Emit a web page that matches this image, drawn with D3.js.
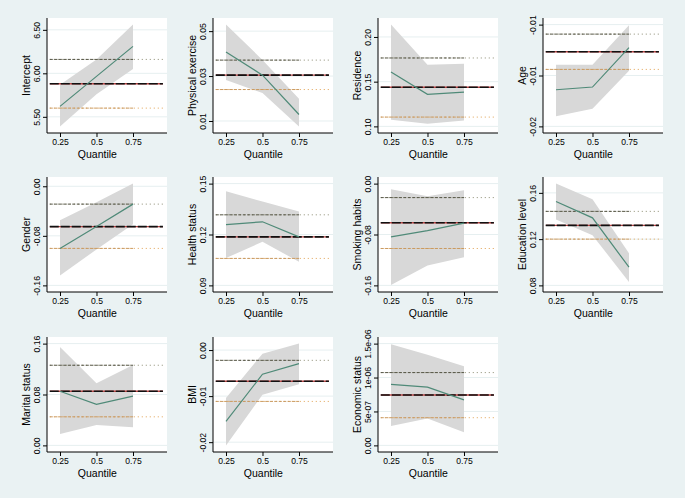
<!DOCTYPE html>
<html>
<head>
<meta charset="utf-8">
<script src="https://cdn.jsdelivr.net/npm/d3@7"></script>
<style>
  body { margin: 0; background: #eaf2f3; }
  svg { display: block; font-family: "Liberation Sans", Arial, sans-serif; }
</style>
</head>
<body>
<div id="chart"></div>
<script>
// quantile regression coefficients by quantile, with OLS estimate for comparison
const variables = ["Intercept", "Physical exercise", "Residence", "Age",
    "Gender", "Health status", "Smoking habits", "Education level",
    "Marital status", "BMI", "Economic status"];
const quantiles = [0.25, 0.5, 0.75];
const quantileLabels = ["0.25", "0.5", "0.75"];

const coef = [
    [5.62, 5.965, 6.31],
    [0.0407, 0.0304, 0.0129],
    [0.1608, 0.1358, 0.1384],
    [-0.0146, -0.0142, -0.0084],
    [-0.1003, -0.0651, -0.0288],
    [0.1258, 0.1275, 0.1186],
    [-0.0836, -0.0738, -0.062],
    [0.1525, 0.1384, 0.0957],
    [0.0852, 0.0645, 0.0774],
    [-0.0155, -0.00525, -0.00295],
    [8.98e-7, 8.59e-7, 6.7e-7]
];
const ciHigh = [
    [5.87, 6.16, 6.56],
    [0.0529, 0.0372, 0.0199],
    [0.2138, 0.169, 0.170],
    [-0.0109, -0.0109, -0.0051],
    [-0.0549, -0.0256, 0.0043],
    [0.1455, 0.1394, 0.1335],
    [-0.0087, -0.020, -0.0103],
    [0.168, 0.1545, 0.1078],
    [0.1548, 0.0975, 0.1265],
    [-0.0104, -0.0008, 0.0014],
    [1.49e-6, 1.335e-6, 1.165e-6]
];
const ciLow = [
    [5.39, 5.76, 6.05],
    [0.0282, 0.0225, 0.0076],
    [0.1075, 0.103, 0.1067],
    [-0.0185, -0.0174, -0.0118],
    [-0.144, -0.102, -0.0613],
    [0.1061, 0.1157, 0.1039],
    [-0.1595, -0.1287, -0.1159],
    [0.137, 0.1234, 0.083],
    [0.018, 0.032, 0.0284],
    [-0.0207, -0.0097, -0.0074],
    [2.86e-7, 3.98e-7, 1.94e-7]
];
const olsCoef = [5.88, 0.0304, 0.1437, -0.0090, -0.0651, 0.1186, -0.0615, 0.1319, 0.0852, -0.00676, 7.43e-7];
const olsHigh = [6.16, 0.0371, 0.1765, -0.0064, -0.0288, 0.1316, -0.022, 0.144, 0.126, -0.00223, 1.073e-6];
const olsLow = [5.60, 0.024, 0.1104, -0.0116, -0.1003, 0.1059, -0.102, 0.12, 0.0449, -0.01115, 4.08e-7];
const olsSpan = [0.18, 0.955];

const yTicks = [
    [5.5, 6.0, 6.5],
    [0.01, 0.03, 0.05],
    [0.10, 0.15, 0.20],
    [-0.02, -0.0125, -0.005],
    [-0.16, -0.08, 0.0],
    [0.09, 0.12, 0.15],
    [-0.16, -0.08, 0.0],
    [0.08, 0.12, 0.16],
    [0.0, 0.08, 0.16],
    [-0.02, -0.01, 0.0],
    [0, 5e-7, 1e-6, 1.5e-6]
];
const yTickLabels = [
    ["5.50", "6.00", "6.50"],
    ["0.01", "0.03", "0.05"],
    ["0.10", "0.15", "0.20"],
    ["-0.02", "-0.01", "-0.01"],
    ["-0.16", "-0.08", "0.00"],
    ["0.09", "0.12", "0.15"],
    ["-0.16", "-0.08", "0.00"],
    ["0.08", "0.12", "0.16"],
    ["0.00", "0.08", "0.16"],
    ["-0.02", "-0.01", "0.00"],
    ["0.00", "5e-07", "1e-06", "1.5e-06"]
];

const svgWidth = 685, svgHeight = 498;
const colLeft = [47, 213, 378, 543];
const rowTop = [18, 177, 337];
const plotW = 120, plotH = 115;

const svg = d3.select("#chart").append("svg")
    .attr("width", svgWidth)
    .attr("height", svgHeight);

svg.append("rect")
    .attr("width", svgWidth)
    .attr("height", svgHeight)
    .attr("fill", "#eaf2f3");

const x = d3.scaleLinear().domain([0.161, 0.983]).range([0, plotW]);

variables.forEach((name, i) => {
    const col = i % 4, row = Math.floor(i / 4);
    const g = svg.append("g")
        .attr("transform", `translate(${colLeft[col]},${rowTop[row]})`);

    const all = coef[i].concat(ciHigh[i], ciLow[i], [olsHigh[i], olsLow[i]], yTicks[i]);
    const ext = d3.extent(all);
    const pad = (ext[1] - ext[0]) * 0.065;
    const y = d3.scaleLinear().domain([ext[0] - pad, ext[1] + pad]).range([plotH, 0]);

    // plot region
    g.append("rect")
        .attr("width", plotW)
        .attr("height", plotH)
        .attr("fill", "#ffffff");

    // gridlines
    g.selectAll(".grid")
        .data(yTicks[i])
        .enter().append("line")
        .attr("x1", 0).attr("x2", plotW)
        .attr("y1", d => y(d)).attr("y2", d => y(d))
        .attr("stroke", "#e6eff0")
        .attr("stroke-width", 1);

    // confidence band
    const area = d3.area()
        .x((d, j) => x(quantiles[j]))
        .y0((d, j) => y(ciLow[i][j]))
        .y1((d, j) => y(ciHigh[i][j]));
    g.append("path")
        .datum(quantiles)
        .attr("d", area)
        .attr("fill", "#d8d8d8");

    // OLS lines
    const hline = (v, attrs) => {
        const l = g.append("line")
            .attr("x1", x(olsSpan[0])).attr("x2", x(olsSpan[1]))
            .attr("y1", y(v)).attr("y2", y(v));
        Object.entries(attrs).forEach(([k, val]) => l.attr(k, val));
        return l;
    };
    hline(olsHigh[i], { stroke: "#8a8a70", "stroke-width": 1, "stroke-dasharray": "1,3" });
    g.append("line")
        .attr("x1", x(olsSpan[0])).attr("x2", x(0.75))
        .attr("y1", y(olsHigh[i])).attr("y2", y(olsHigh[i]))
        .attr("stroke", "#555545").attr("stroke-width", 1).attr("stroke-dasharray", "3,1.5");
    hline(olsLow[i], { stroke: "#e0a050", "stroke-width": 1, "stroke-dasharray": "1,3" });
    g.append("line")
        .attr("x1", x(olsSpan[0])).attr("x2", x(0.75))
        .attr("y1", y(olsLow[i])).attr("y2", y(olsLow[i]))
        .attr("stroke", "#c99a62").attr("stroke-width", 1).attr("stroke-dasharray", "3,1.5");
    hline(olsCoef[i], { stroke: "#c04848", "stroke-width": 1.4 });
    hline(olsCoef[i], { stroke: "#111111", "stroke-width": 1.6, "stroke-dasharray": "9,2" });

    // quantile estimates
    g.append("path")
        .datum(coef[i])
        .attr("d", d3.line().x((d, j) => x(quantiles[j])).y(d => y(d)))
        .attr("fill", "none")
        .attr("stroke", "#4f8a78")
        .attr("stroke-width", 1.2);

    // y axis
    const yAxis = g.append("g")
        .call(d3.axisLeft(y).tickValues(yTicks[i]).tickSize(4).tickFormat((d, j) => yTickLabels[i][j]));
    yAxis.select(".domain").attr("stroke", "#000").attr("d", `M0,0V${plotH}`);
    yAxis.selectAll(".tick line").attr("stroke", "#000");
    yAxis.selectAll(".tick text")
        .attr("transform", "rotate(-90)")
        .attr("x", 0).attr("y", -7).attr("dy", 0)
        .attr("text-anchor", "middle")
        .style("font-size", "8.6px")
        .attr("fill", "#000");

    // x axis
    const xAxis = g.append("g")
        .attr("transform", `translate(0,${plotH})`)
        .call(d3.axisBottom(x).tickValues(quantiles).tickSize(4).tickFormat((d, j) => quantileLabels[j]));
    xAxis.select(".domain").attr("stroke", "#000").attr("d", `M0,0H${plotW}`);
    xAxis.selectAll(".tick line").attr("stroke", "#000");
    xAxis.selectAll(".tick text")
        .attr("y", 6)
        .style("font-size", "8.6px")
        .attr("fill", "#000");

    g.append("text")
        .attr("x", plotW * 0.42)
        .attr("y", plotH + 25)
        .attr("text-anchor", "middle")
        .style("font-size", "10.5px")
        .text("Quantile");

    g.append("text")
        .attr("transform", `translate(-17,${plotH / 2}) rotate(-90)`)
        .attr("text-anchor", "middle")
        .style("font-size", "10.5px")
        .text(name);
});
</script>
</body>
</html>
